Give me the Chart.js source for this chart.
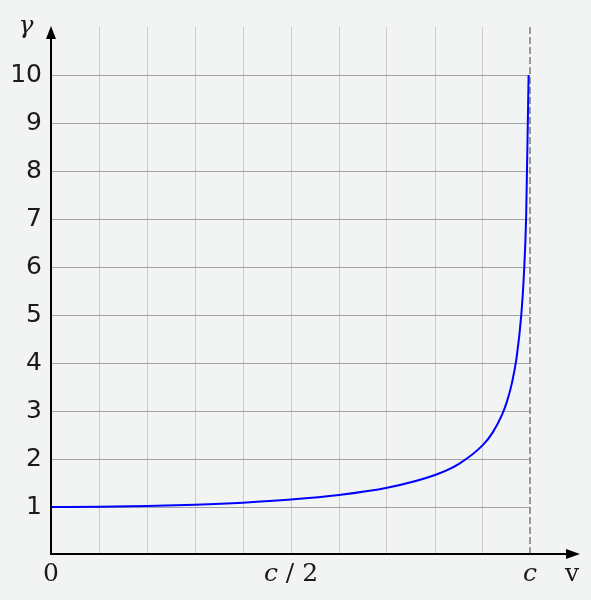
<!DOCTYPE html>
<html>
<head>
<meta charset="utf-8">
<script src="https://cdn.jsdelivr.net/npm/chart.js@4/dist/chart.umd.min.js"></script>
<style>
  html, body { margin: 0; padding: 0; background: #f2f3f3; }
  canvas { display: block; }
</style>
</head>
<body>
<canvas id="gammaChartCanvas" width="591" height="600"></canvas>
<script>
// velocity as fraction of c, and the Lorentz factor
const speeds = [0, 0.1, 0.2, 0.3, 0.4, 0.5, 0.6, 0.7, 0.8, 0.85, 0.9, 0.92, 0.94, 0.95, 0.96, 0.97, 0.98, 0.985, 0.99, 0.995]
const gammas = [1, 1.005, 1.02, 1.048, 1.091, 1.155, 1.25, 1.4, 1.667, 1.9, 2.294, 2.55, 2.93, 3.2, 3.57, 4.11, 5.03, 5.8, 7.09, 10.0]

const xTickValues = [0, 0.5, 1]
const xTickLabels = [['0'], ['c', ' / 2'], ['c']]
const yTickValues = [1, 2, 3, 4, 5, 6, 7, 8, 9, 10]

const points = speeds.map((v, i) => ({ x: v, y: gammas[i] }))

// axes, arrows, light-speed asymptote and labels
const axisPlugin = {
  id: 'axisPlugin',
  beforeDatasetsDraw(chart) {
    const ctx = chart.ctx
    const xs = chart.scales.x
    const ys = chart.scales.y
    const area = chart.chartArea
    const cx = xs.getPixelForValue(1) - 1

    ctx.save()
    // horizontal grid lines stop at c
    ctx.strokeStyle = '#a3a3a3'
    ctx.lineWidth = 1
    yTickValues.forEach(v => {
      const y = Math.round(ys.getPixelForValue(v)) + 0.5
      ctx.beginPath()
      ctx.moveTo(area.left, y)
      ctx.lineTo(cx, y)
      ctx.stroke()
    })

    // dashed line at v = c
    ctx.strokeStyle = '#7a7a7a'
    ctx.lineWidth = 1.5
    ctx.setLineDash([7, 3])
    ctx.beginPath()
    ctx.moveTo(cx, area.top)
    ctx.lineTo(cx, ys.getPixelForValue(0))
    ctx.stroke()
    ctx.restore()
  },
  afterDatasetsDraw(chart) {
    const ctx = chart.ctx
    const xs = chart.scales.x
    const ys = chart.scales.y
    const area = chart.chartArea
    const x0 = xs.getPixelForValue(0)
    const y0 = ys.getPixelForValue(0) - 1

    ctx.save()
    ctx.strokeStyle = '#000'
    ctx.fillStyle = '#000'
    ctx.lineWidth = 2
    ctx.beginPath()
    ctx.moveTo(x0, y0 + 1)
    ctx.lineTo(x0, area.top + 10)
    ctx.moveTo(x0 - 1, y0)
    ctx.lineTo(area.right - 10, y0)
    ctx.stroke()

    // arrow heads
    ctx.beginPath()
    ctx.moveTo(x0, area.top - 1)
    ctx.lineTo(x0 - 5, area.top + 12)
    ctx.lineTo(x0 + 5, area.top + 12)
    ctx.closePath()
    ctx.fill()
    ctx.beginPath()
    ctx.moveTo(area.right + 1, y0)
    ctx.lineTo(area.right - 13, y0 - 5)
    ctx.lineTo(area.right - 13, y0 + 5)
    ctx.closePath()
    ctx.fill()

    // x tick labels, c in italics
    ctx.fillStyle = '#1a1a1a'
    ctx.textBaseline = 'middle'
    const ty = y0 + 20
    xTickValues.forEach((v, i) => {
      const parts = xTickLabels[i]
      const fonts = parts.map(p => (p === 'c' ? 'italic ' : '') + '25px "DejaVu Serif"')
      let total = 0
      parts.forEach((p, j) => { ctx.font = fonts[j]; total += ctx.measureText(p).width })
      let x = xs.getPixelForValue(v) - total / 2
      if (v === 1) x -= 1
      ctx.textAlign = 'left'
      parts.forEach((p, j) => {
        ctx.font = fonts[j]
        ctx.fillText(p, x, ty)
        x += ctx.measureText(p).width
      })
    })

    // axis names
    ctx.textAlign = 'center'
    ctx.font = '25px "DejaVu Serif"'
    ctx.fillText('v', area.right - 7, ty)
    ctx.font = 'italic 25px "DejaVu Serif"'
    ctx.fillText('γ', 26, area.top - 1)
    ctx.restore()
  }
}

// Lorentz factor chart
const gammaChartCanvas = document.getElementById('gammaChartCanvas')
let gammaChart = new Chart(gammaChartCanvas, {
  type: 'scatter',
  data: {
    datasets: [
      {
        data: points,
        showLine: true,
        borderColor: '#0000ff',
        borderWidth: 2,
        pointRadius: 0,
        cubicInterpolationMode: 'monotone',
        fill: false
      }
    ]
  },
  options: {
    responsive: false,
    animation: false,
    layout: {
      padding: { top: 27, right: 12, left: 0, bottom: 0 }
    },
    plugins: {
      legend: { display: false },
      tooltip: { enabled: false }
    },
    scales: {
      x: {
        type: 'linear',
        min: 0,
        max: 1.1,
        border: { display: false },
        grid: {
          drawTicks: false,
          lineWidth: 1,
          color: ctx => {
            const v = Math.round(ctx.tick.value * 10)
            return (v === 0 || v >= 10) ? 'rgba(0,0,0,0)' : '#cbcbcb'
          }
        },
        ticks: { stepSize: 0.1, display: false },
        afterFit: scale => { scale.height = 45 }
      },
      y: {
        type: 'linear',
        min: 0,
        max: 11,
        border: { display: false },
        grid: { display: false, drawTicks: false },
        ticks: {
          stepSize: 1,
          padding: 9,
          color: '#1a1a1a',
          font: { family: '"DejaVu Sans"', size: 25 },
          callback: v => (v >= 1 && v <= 10) ? String(v) : ''
        },
        afterFit: scale => { scale.width = 51 }
      }
    }
  },
  plugins: [axisPlugin]
})
</script>
</body>
</html>
